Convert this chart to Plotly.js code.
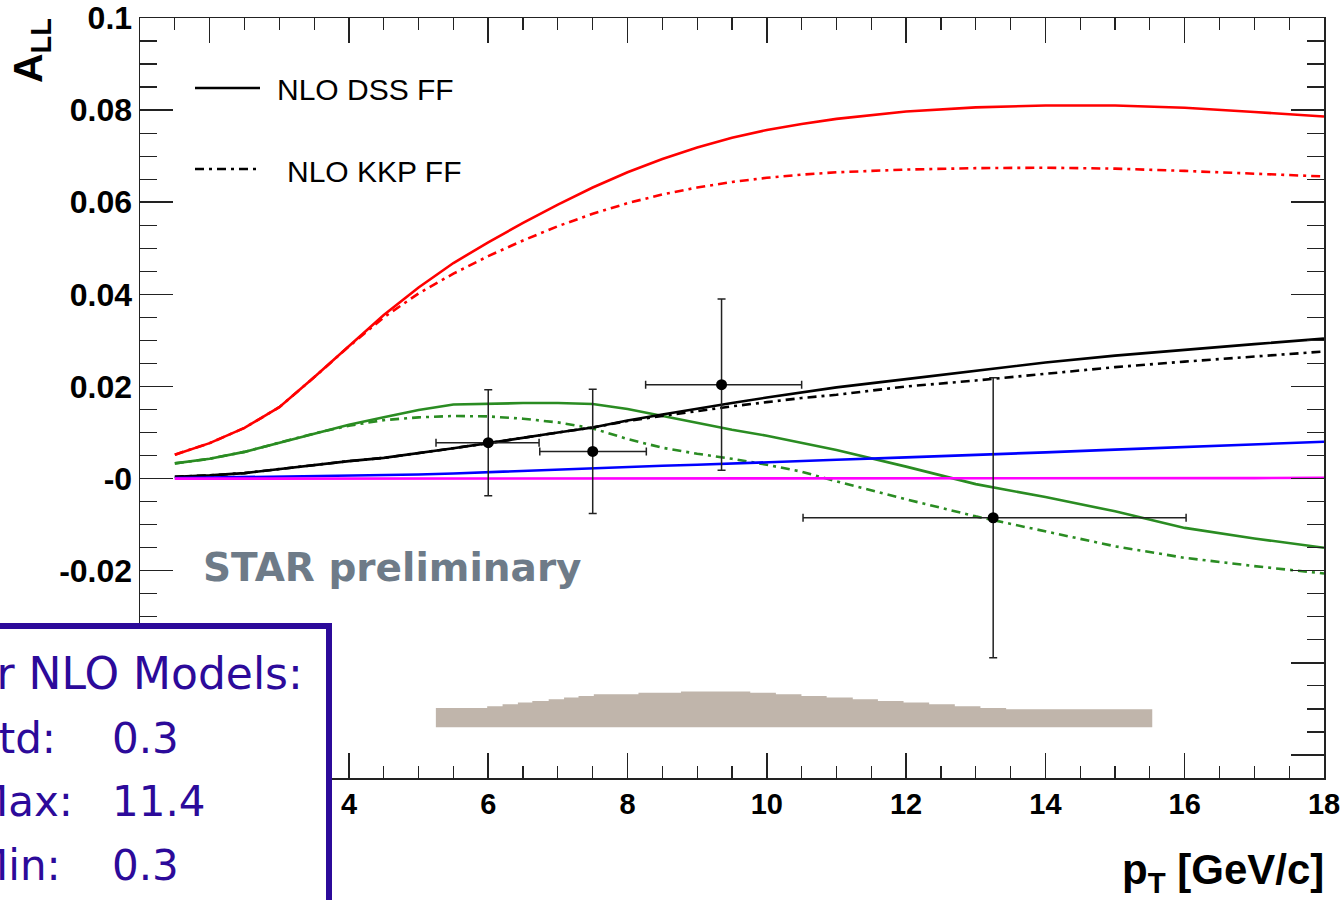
<!DOCTYPE html>
<html><head><meta charset="utf-8">
<script src="https://cdn.plot.ly/plotly-3.0.1.min.js"></script>
<style>html,body{margin:0;padding:0;background:#fff;overflow:hidden}#chart{width:1343px;height:900px;}</style>
</head><body><div id="chart"></div>
<script>
// ---- data ----
const ptGrid = [1.5,2,2.5,3,3.5,4,4.5,5,5.5,6,6.5,7,7.5,8,8.5,9,9.5,10,10.5,11,12,13,14,15,16,17,18];
const redDSS = [0.0052,0.0077,0.0110,0.0155,0.0220,0.0288,0.0355,0.0415,0.0468,0.0513,0.0555,0.0595,0.0632,0.0665,0.0694,0.0719,0.0740,0.0757,0.0770,0.0781,0.0797,0.0806,0.0810,0.0810,0.0805,0.0796,0.0786];
const redKKP = [0.0052,0.0077,0.0110,0.0155,0.0220,0.0287,0.0350,0.0402,0.0445,0.0483,0.0517,0.0548,0.0575,0.0598,0.0617,0.0632,0.0644,0.0653,0.0660,0.0665,0.0671,0.0674,0.0675,0.0673,0.0668,0.0662,0.0656];
const greenDSS = [0.0033,0.0043,0.0058,0.0078,0.0098,0.0117,0.0133,0.0149,0.0161,0.0163,0.0164,0.0164,0.0162,0.0151,0.0136,0.0120,0.0106,0.0093,0.0078,0.0062,0.0026,-0.0012,-0.0040,-0.0071,-0.0107,-0.0130,-0.0150];
const greenKKP = [0.0033,0.0043,0.0058,0.0078,0.0098,0.0115,0.0127,0.0133,0.0136,0.0135,0.0130,0.0122,0.0109,0.0086,0.0067,0.0054,0.0043,0.0030,0.0015,-0.0006,-0.0045,-0.0082,-0.0115,-0.0147,-0.0172,-0.0190,-0.0206];
const blackDSS = [0.0004,0.0007,0.0012,0.0021,0.0030,0.0038,0.0045,0.0055,0.0066,0.0077,0.0089,0.0100,0.0111,0.0126,0.0139,0.0152,0.0164,0.0176,0.0187,0.0198,0.0216,0.0234,0.0252,0.0267,0.0280,0.0292,0.0304];
const blackKKP = [0.0004,0.0007,0.0012,0.0021,0.0030,0.0038,0.0045,0.0055,0.0066,0.0077,0.0089,0.0100,0.0111,0.0125,0.0136,0.0147,0.0157,0.0166,0.0175,0.0182,0.0200,0.0213,0.0228,0.0242,0.0254,0.0265,0.0276];
const blueDSS = [0.0001,0.0002,0.0003,0.0004,0.0005,0.0006,0.0008,0.0009,0.0011,0.0014,0.0017,0.0020,0.0022,0.0025,0.0028,0.0030,0.0033,0.0036,0.0039,0.0041,0.0046,0.0051,0.0057,0.0063,0.0069,0.0075,0.0080];
const magentaDSS = [0,0,0,0,0,0,0,0,0,0,0,0,0,0,0,0,0,0,0,0,0,0,0,0,0,0.0001,0.0002];

const dataPt = [6.0, 7.5, 9.35, 13.25];
const dataALL = [0.0078, 0.0059, 0.0204, -0.0085];
const dataStat = [0.0115, 0.0135, 0.0186, 0.0304];
const binLo = [5.25, 6.74, 8.26, 10.52];
const binHi = [6.73, 8.27, 10.50, 16.02];

const sysEdges = [5.248,5.985,6.206,6.426,6.633,6.868,7.089,7.296,7.516,8.157,8.768,9.762,10.13,10.497,10.859,11.234,11.595,11.963,12.331,12.699,13.067,13.436,15.534];
const sysTop = [-0.0498,-0.0494,-0.0490,-0.0486,-0.0483,-0.0479,-0.0475,-0.0472,-0.0468,-0.0465,-0.0462,-0.0465,-0.0468,-0.0472,-0.0475,-0.0479,-0.0483,-0.0486,-0.0490,-0.0494,-0.0498,-0.0501];
const sysBase = -0.054;

// labels at -0.04, -0.06 and 2 sit under the box in the reference, so they are left blank
const yTickVals = [-0.06,-0.04,-0.02,0,0.02,0.04,0.06,0.08,0.1];
const yTickText = ['','','-0.02','-0','0.02','0.04','0.06','0.08','0.1'];
const xTickVals = [2,4,6,8,10,12,14,16,18];
const xTickText = ['','4','6','8','10','12','14','16','18'];

const legendLabels = ['NLO DSS FF','NLO KKP FF'];
const boxTitle = 'χ² for NLO Models:';
const boxLabels = ['Std:','Max:','Min:'];
const boxValues = ['0.3','11.4','0.3'];

// ---- layout helpers ----
const W = 1343, H = 900, ML = 140, MR = 19, MT = 18, MB = 122;
const PW = W - ML - MR, PH = H - MT - MB;
const px = x => (x - ML) / PW;
const py = y => (H - MB - y) / PH;

const DASHDOT = '9px,5px,3px,5px';
const GREEN = '#2a8c22';
const PURPLE = '#2c0a9a';
const AX = '#222222';
const FONT = 'Liberation Sans, Arial, Helvetica, sans-serif';
const WIDE = 'DejaVu Sans, sans-serif';

function curve(y, color, dash) {
  return {x: ptGrid, y: y, type: 'scatter', mode: 'lines', hoverinfo: 'skip',
          line: {color: color, width: 2.6, dash: dash || 'solid'}, showlegend: false};
}

const sysTopExt = sysTop.concat([sysTop[sysTop.length - 1]]);
const traces = [
  {x: [sysEdges[0], sysEdges[sysEdges.length - 1]], y: [sysBase, sysBase], type: 'scatter', mode: 'lines',
   line: {width: 0, color: '#c0b5ab'}, showlegend: false, hoverinfo: 'skip'},
  {x: sysEdges, y: sysTopExt, type: 'scatter', mode: 'lines', line: {width: 0, shape: 'hv', color: '#c0b5ab'},
   fill: 'tonexty', fillcolor: '#c0b5ab', showlegend: false, hoverinfo: 'skip'},
  curve(redDSS, '#ff0000'),
  curve(redKKP, '#ff0000', DASHDOT),
  curve(greenDSS, GREEN),
  curve(greenKKP, GREEN, DASHDOT),
  curve(blackDSS, '#000000'),
  curve(blackKKP, '#000000', DASHDOT),
  curve(blueDSS, '#0000ff'),
  curve(magentaDSS, '#ff00ff'),
  {x: dataPt, y: dataALL, type: 'scatter', mode: 'markers', showlegend: false,
   marker: {color: '#000', size: 11, symbol: 'circle'},
   error_y: {type: 'data', array: dataStat, visible: true, color: '#222', thickness: 1.5, width: 4},
   error_x: {type: 'data', array: binHi.map((h, i) => h - dataPt[i]), arrayminus: binLo.map((l, i) => dataPt[i] - l),
             symmetric: false, visible: true, color: '#222', thickness: 1.5, width: 4}}
];

const annotations = [
  {text: '<b>A<sub>LL</sub></b>', textangle: -90, xref: 'paper', yref: 'paper', x: px(31), y: py(51),
   xanchor: 'center', yanchor: 'middle', showarrow: false, font: {family: FONT, size: 41, color: '#000'}},
  {text: '<b>p<sub>T</sub> [GeV/c]</b>', xref: 'paper', yref: 'paper', x: px(1326), y: py(872),
   xanchor: 'right', yanchor: 'middle', showarrow: false, font: {family: FONT, size: 42, color: '#000'}},
  {text: legendLabels[0], xref: 'paper', yref: 'paper', x: px(275), y: py(90), xanchor: 'left', yanchor: 'middle',
   showarrow: false, font: {family: FONT, size: 30, color: '#000'}},
  {text: legendLabels[1], xref: 'paper', yref: 'paper', x: px(285), y: py(172), xanchor: 'left', yanchor: 'middle',
   showarrow: false, font: {family: FONT, size: 30, color: '#000'}},
  {text: '<b>STAR preliminary</b>', xref: 'paper', yref: 'paper', x: px(201), y: py(568), xanchor: 'left', yanchor: 'middle',
   showarrow: false, font: {family: WIDE, size: 39, color: '#6e7b88'}},
  {text: boxTitle, xref: 'paper', yref: 'paper', x: px(305), y: py(673), xanchor: 'right', yanchor: 'middle',
   showarrow: false, font: {family: WIDE, size: 44, color: PURPLE}}
];
const rowY = [738, 801, 865];
boxLabels.forEach((lab, i) => {
  annotations.push({text: lab, xref: 'paper', yref: 'paper', x: px(-30), y: py(rowY[i]), xanchor: 'left', yanchor: 'middle',
    showarrow: false, font: {family: WIDE, size: 42, color: PURPLE}});
  annotations.push({text: boxValues[i], xref: 'paper', yref: 'paper', x: px(110), y: py(rowY[i]), xanchor: 'left', yanchor: 'middle',
    showarrow: false, font: {family: WIDE, size: 42, color: PURPLE}});
});

const shapes = [
  {type: 'line', xref: 'paper', yref: 'paper', x0: px(195), x1: px(260), y0: py(88), y1: py(88),
   line: {color: '#000', width: 2.6}},
  {type: 'line', xref: 'paper', yref: 'paper', x0: px(195), x1: px(260), y0: py(169), y1: py(169),
   line: {color: '#000', width: 2.6, dash: DASHDOT}},
  {type: 'rect', xref: 'paper', yref: 'paper', x0: px(-40), x1: px(329), y0: py(626), y1: py(960),
   line: {color: PURPLE, width: 6}, fillcolor: '#ffffff', layer: 'above'}
];

const layout = {
  width: W, height: H,
  margin: {l: ML, r: MR, t: MT, b: MB, pad: 0},
  paper_bgcolor: '#ffffff', plot_bgcolor: '#ffffff',
  showlegend: false,
  xaxis: {range: [1, 18], showgrid: false, zeroline: false, showline: true, linecolor: AX, linewidth: 1.5,
          mirror: 'ticks', ticks: 'inside', ticklen: 25, tickwidth: 1.5, tickcolor: AX,
          tickmode: 'array', tickvals: xTickVals, ticktext: xTickText,
          tickfont: {family: FONT, size: 29, color: '#000', weight: 'bold'},
          minor: {ticks: 'inside', ticklen: 12, tickwidth: 1.2, tickcolor: AX, dtick: 0.5, tick0: 0, showgrid: false}},
  yaxis: {range: [-0.065, 0.1], showgrid: false, zeroline: false, showline: true, linecolor: AX, linewidth: 1.5,
          mirror: 'ticks', ticks: 'inside', ticklen: 33, tickwidth: 1.5, tickcolor: AX,
          tickmode: 'array', tickvals: yTickVals, ticktext: yTickText,
          tickfont: {family: FONT, size: 32, color: '#000', weight: 'bold'},
          minor: {ticks: 'inside', ticklen: 17, tickwidth: 1.2, tickcolor: AX, dtick: 0.005, tick0: 0, showgrid: false}},
  annotations: annotations,
  shapes: shapes
};

Plotly.newPlot('chart', traces, layout, {displayModeBar: false, staticPlot: true});
</script>
</body></html>
